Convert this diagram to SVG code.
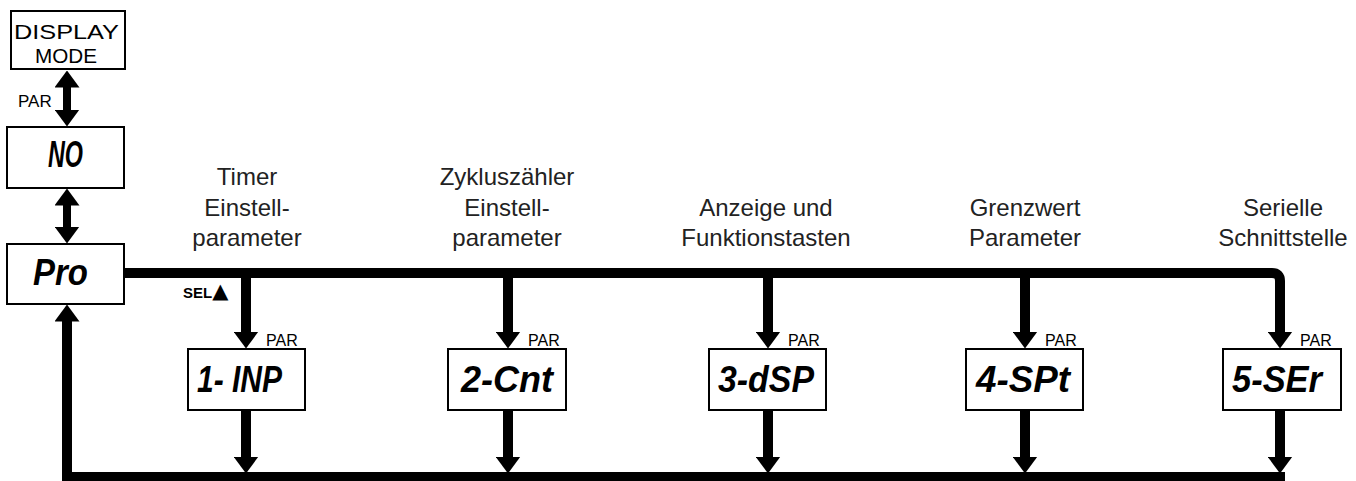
<svg xmlns="http://www.w3.org/2000/svg" width="1356" height="481" viewBox="0 0 1356 481">
<style>
.box{fill:#fff;stroke:#000;stroke-width:2}
.lbl{font-family:"Liberation Sans",Arial,sans-serif;font-size:24px;fill:#222;text-anchor:middle}
.par{font-family:"Liberation Sans",Arial,sans-serif;font-size:16px;fill:#000}
.seg{font-family:"Liberation Sans",Arial,sans-serif;font-size:36px;font-weight:bold;font-style:italic;fill:#000}
.dm{font-family:"Liberation Sans",Arial,sans-serif;font-size:21px;fill:#000}
.ln{fill:none;stroke:#000;stroke-width:10}
.ln2{fill:none;stroke:#000;stroke-width:8}
</style>
<defs>
<marker id="ah" markerUnits="userSpaceOnUse" markerWidth="17" markerHeight="25" viewBox="0 0 17 25" refX="0.5" refY="12.5" orient="auto-start-reverse">
<path d="M0,0 L17,12.5 L0,25 z" fill="#000"/>
</marker>
</defs>
<g id="connectors">
<line class="ln2" x1="67" y1="87" x2="67" y2="110" marker-start="url(#ah)" marker-end="url(#ah)"/>
<line class="ln2" x1="67" y1="205" x2="67" y2="227" marker-start="url(#ah)" marker-end="url(#ah)"/>
<path class="ln" d="M124,273 H1272 Q1280,273 1280,281 V332" marker-end="url(#ah)"/>
<line class="ln" x1="246" y1="273" x2="246" y2="332" marker-end="url(#ah)"/>
<line class="ln" x1="508" y1="273" x2="508" y2="332" marker-end="url(#ah)"/>
<line class="ln" x1="768" y1="273" x2="768" y2="332" marker-end="url(#ah)"/>
<line class="ln" x1="1025" y1="273" x2="1025" y2="332" marker-end="url(#ah)"/>
<line class="ln" x1="246" y1="410" x2="246" y2="457" marker-end="url(#ah)"/>
<line class="ln" x1="508" y1="410" x2="508" y2="457" marker-end="url(#ah)"/>
<line class="ln" x1="768" y1="410" x2="768" y2="457" marker-end="url(#ah)"/>
<line class="ln" x1="1025" y1="410" x2="1025" y2="457" marker-end="url(#ah)"/>
<line class="ln" x1="1280" y1="410" x2="1280" y2="457" marker-end="url(#ah)"/>
<path class="ln" d="M1285,477 H67 V321" marker-end="url(#ah)" stroke-linejoin="miter"/>
<text class="par" x="18" y="107" style="font-size:17px">PAR</text>
<text class="par" x="183" y="298" style="font-weight:bold;font-size:15px">SEL<tspan style="font-size:21px;font-family:'DejaVu Sans',sans-serif">▲</tspan></text>
</g>
<g id="display-mode">
<rect class="box" x="11" y="11" width="114" height="58"/>
<text class="dm" x="14" y="39" textLength="105" lengthAdjust="spacingAndGlyphs">DISPLAY</text>
<text class="dm" x="35" y="63" textLength="62" lengthAdjust="spacingAndGlyphs">MODE</text>
</g>
<g id="no">
<rect class="box" x="7" y="127" width="117" height="61"/>
<text class="seg" x="48" y="167" textLength="35" lengthAdjust="spacingAndGlyphs">NO</text>
</g>
<g id="pro">
<rect class="box" x="7" y="244" width="117" height="60"/>
<text class="seg" x="33" y="285" textLength="55" lengthAdjust="spacingAndGlyphs">Pro</text>
</g>
<g id="n1">
<text class="lbl" x="247" y="185">Timer</text>
<text class="lbl" x="247" y="216">Einstell-</text>
<text class="lbl" x="247" y="246">parameter</text>
<text class="par" x="266" y="346">PAR</text>
<rect class="box" x="188" y="349" width="117" height="61"/>
<text class="seg" x="197" y="392" textLength="85" lengthAdjust="spacingAndGlyphs">1- INP</text>
</g>
<g id="n2">
<text class="lbl" x="507" y="185">Zykluszähler</text>
<text class="lbl" x="507" y="216">Einstell-</text>
<text class="lbl" x="507" y="246">parameter</text>
<text class="par" x="528" y="346">PAR</text>
<rect class="box" x="448" y="349" width="118" height="61"/>
<text class="seg" x="461" y="392" textLength="92" lengthAdjust="spacingAndGlyphs">2-Cnt</text>
</g>
<g id="n3">
<text class="lbl" x="766" y="216">Anzeige und</text>
<text class="lbl" x="766" y="246">Funktionstasten</text>
<text class="par" x="788" y="346">PAR</text>
<rect class="box" x="709" y="349" width="117" height="61"/>
<text class="seg" x="718" y="392" textLength="96" lengthAdjust="spacingAndGlyphs">3-dSP</text>
</g>
<g id="n4">
<text class="lbl" x="1025" y="216">Grenzwert</text>
<text class="lbl" x="1025" y="246">Parameter</text>
<text class="par" x="1045" y="346">PAR</text>
<rect class="box" x="966" y="349" width="117" height="61"/>
<text class="seg" x="976" y="392" textLength="94" lengthAdjust="spacingAndGlyphs">4-SPt</text>
</g>
<g id="n5">
<text class="lbl" x="1283" y="216">Serielle</text>
<text class="lbl" x="1283" y="246">Schnittstelle</text>
<text class="par" x="1300" y="346">PAR</text>
<rect class="box" x="1223" y="349" width="118" height="61"/>
<text class="seg" x="1232" y="392" textLength="90" lengthAdjust="spacingAndGlyphs">5-SEr</text>
</g>
</svg>
